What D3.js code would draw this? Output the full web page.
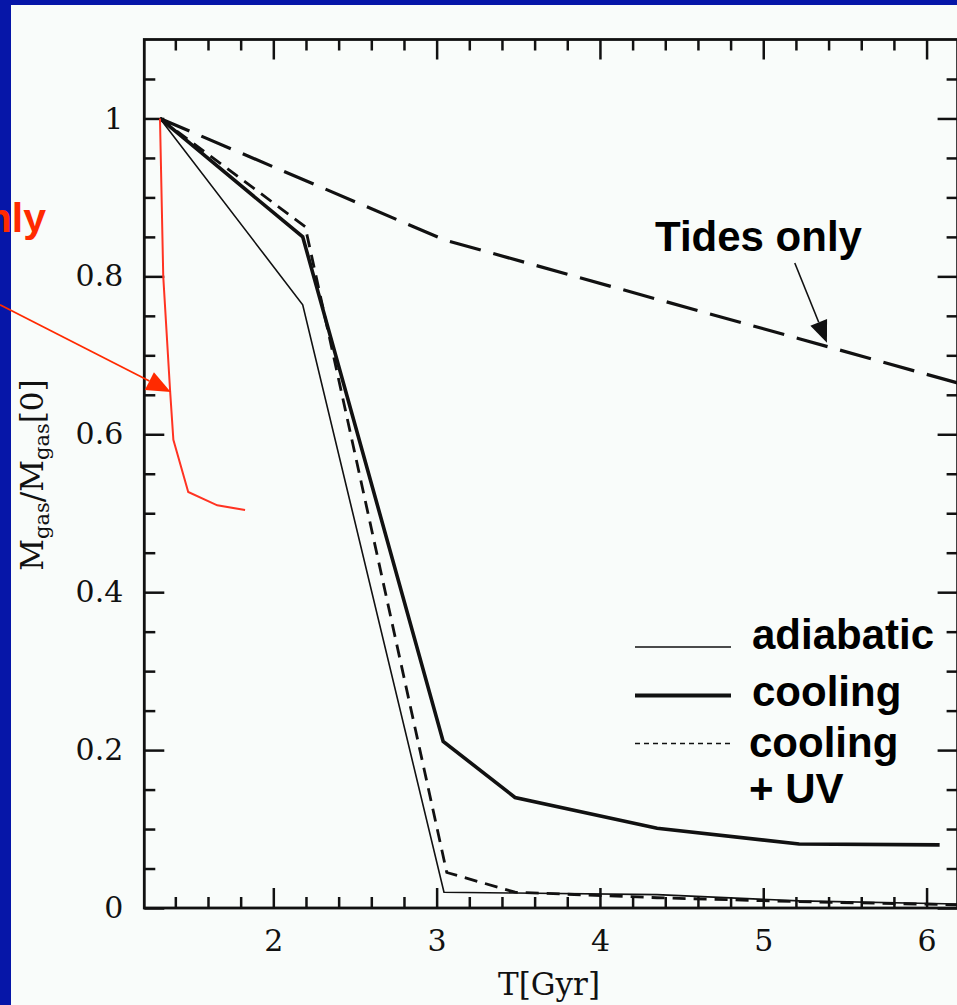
<!DOCTYPE html>
<html>
<head>
<meta charset="utf-8">
<script src="https://cdn.jsdelivr.net/npm/d3@7/dist/d3.min.js"></script>
<style>
  html, body { margin: 0; padding: 0; background: #0616a8; }
  svg { display: block; }
</style>
</head>
<body>
<svg id="chart" width="957" height="1005"></svg>
<script>
// ---------- data ----------
const tidesT = [1.306, 3.05, 4.35, 5.22, 6.19];
const tidesV = [1.0, 0.846, 0.771, 0.721, 0.665];

const coolingT = [1.306, 2.18, 3.04, 3.48, 4.35, 5.22, 6.08];
const coolingV = [1.0, 0.850, 0.211, 0.140, 0.101, 0.081, 0.080];

const adiabaticT = [1.306, 2.18, 3.045, 3.48, 4.35, 5.22, 6.19];
const adiabaticV = [1.0, 0.764, 0.020, 0.019, 0.017, 0.009, 0.005];

const coolUvT = [1.306, 2.195, 3.062, 3.48, 4.35, 5.22, 6.19];
const coolUvV = [1.0, 0.863, 0.045, 0.020, 0.013, 0.008, 0.004];

const ramT = [1.306, 1.326, 1.368, 1.388, 1.479, 1.657, 1.827];
const ramV = [1.0, 0.80, 0.655, 0.593, 0.527, 0.510, 0.504];

const xMajorTicks = [2, 3, 4, 5, 6];
const yMajorTicks = [0, 0.2, 0.4, 0.6, 0.8, 1];
const yTickLabels = ["0", "0.2", "0.4", "0.6", "0.8", "1"];

const legendLabels = ["adiabatic", "cooling", "cooling", "+ UV"];
const tidesLabel = "Tides only";
const ramLabel = "Ram pressure only";

// ---------- layout ----------
const svg = d3.select("#chart");
const W = 957, H = 1005;

svg.append("rect").attr("x", 0).attr("y", 0).attr("width", W).attr("height", H).attr("fill", "#0616a8");
svg.append("rect").attr("x", 11).attr("y", 5).attr("width", W - 11).attr("height", H - 5).attr("fill", "#f9fcfa");

const x = d3.scaleLinear().domain([1.21, 6.19]).range([144.3, 957.6]);
const y = d3.scaleLinear().domain([0, 1.1]).range([908, 39.5]);

const x0 = x.range()[0], x1 = x.range()[1], y0 = y.range()[0], y1 = y.range()[1];

svg.append("clipPath").attr("id", "plotclip")
  .append("rect").attr("x", x0).attr("y", y1).attr("width", x1 - x0).attr("height", y0 - y1);

const tickColor = "#111";
const tickFont = "'DejaVu Serif', serif";

const xMinor = d3.range(1.4, 6.2, 0.2).map(v => +v.toFixed(1)).filter(v => !xMajorTicks.includes(v));
const yMinor = d3.range(0.05, 1.1, 0.05).map(v => +v.toFixed(2)).filter(v => !yMajorTicks.some(m => Math.abs(m - v) < 1e-6));

function styleAxis(g) {
  g.select(".domain").remove();
  g.selectAll(".tick line").attr("stroke", tickColor).attr("stroke-width", 2.5);
  g.selectAll(".tick text").attr("fill", "#111").style("font-family", tickFont).style("font-size", "30px");
}

// bottom axis
svg.append("g").attr("transform", `translate(0,${y0})`)
  .call(d3.axisBottom(x).tickValues(xMajorTicks).tickSize(-20).tickPadding(22).tickFormat(d3.format("d")))
  .call(styleAxis);
svg.append("g").attr("transform", `translate(0,${y0})`)
  .call(d3.axisBottom(x).tickValues(xMinor).tickSize(-11).tickFormat(""))
  .call(styleAxis);
// top axis
svg.append("g").attr("transform", `translate(0,${y1})`)
  .call(d3.axisTop(x).tickValues(xMajorTicks).tickSize(-20).tickFormat(""))
  .call(styleAxis);
svg.append("g").attr("transform", `translate(0,${y1})`)
  .call(d3.axisTop(x).tickValues(xMinor).tickSize(-11).tickFormat(""))
  .call(styleAxis);
// left axis
svg.append("g").attr("transform", `translate(${x0},0)`)
  .call(d3.axisLeft(y).tickValues(yMajorTicks).tickSize(-20).tickPadding(21)
    .tickFormat((d, i) => yTickLabels[i]))
  .call(styleAxis);
svg.append("g").attr("transform", `translate(${x0},0)`)
  .call(d3.axisLeft(y).tickValues(yMinor).tickSize(-11).tickFormat(""))
  .call(styleAxis);
// right axis
svg.append("g").attr("transform", `translate(${x1},0)`)
  .call(d3.axisRight(y).tickValues(yMajorTicks).tickSize(-20).tickFormat(""))
  .call(styleAxis);
svg.append("g").attr("transform", `translate(${x1},0)`)
  .call(d3.axisRight(y).tickValues(yMinor).tickSize(-11).tickFormat(""))
  .call(styleAxis);

// frame
svg.append("rect").attr("x", x0).attr("y", y1).attr("width", x1 - x0).attr("height", y0 - y1)
  .attr("fill", "none").attr("stroke", tickColor).attr("stroke-width", 2.8);

// axis titles
svg.append("text").attr("x", 549).attr("y", 995).attr("text-anchor", "middle")
  .style("font-family", tickFont).style("font-size", "31px").attr("fill", "#111")
  .text("T[Gyr]");

const yt = svg.append("text").attr("transform", "translate(43,475) rotate(-90)")
  .attr("text-anchor", "middle").style("font-family", tickFont).style("font-size", "31px").attr("fill", "#111");
yt.append("tspan").text("M");
yt.append("tspan").attr("baseline-shift", "-28%").style("font-size", "21px").text("gas");
yt.append("tspan").text("/M");
yt.append("tspan").attr("baseline-shift", "-28%").style("font-size", "21px").text("gas");
yt.append("tspan").text("[0]");

// ---------- lines ----------
const line = d3.line().x(d => x(d[0])).y(d => y(d[1]));
const plot = svg.append("g").attr("clip-path", "url(#plotclip)");

function drawSeries(T, V, opts) {
  plot.append("path").datum(T.map((t, i) => [t, V[i]]))
    .attr("d", line).attr("fill", "none")
    .attr("stroke", opts.color).attr("stroke-width", opts.width)
    .attr("stroke-dasharray", opts.dash || null)
    .attr("stroke-linejoin", "miter");
}
drawSeries(tidesT, tidesV, { color: "#111", width: 3.2, dash: "32,13" });
drawSeries(adiabaticT, adiabaticV, { color: "#111", width: 1.6 });
drawSeries(coolUvT, coolUvV, { color: "#111", width: 2.8, dash: "13,8" });
drawSeries(coolingT, coolingV, { color: "#111", width: 3.6 });
drawSeries(ramT, ramV, { color: "#ff3322", width: 2 });

// ---------- legend ----------
const legFont = "'Liberation Sans', Arial, sans-serif";
const legendRows = [
  { label: legendLabels[0], lx: 752, ly: 649, line: { y: 647, w: 1.5, dash: null } },
  { label: legendLabels[1], lx: 752, ly: 706, line: { y: 695.5, w: 4.2, dash: null } },
  { label: legendLabels[2], lx: 749, ly: 757, line: { y: 743.5, w: 1.5, dash: "5,4" } },
  { label: legendLabels[3], lx: 749, ly: 803, line: null }
];
legendRows.forEach(r => {
  if (r.line) {
    svg.append("line").attr("x1", 635).attr("x2", 731).attr("y1", r.line.y).attr("y2", r.line.y)
      .attr("stroke", "#111").attr("stroke-width", r.line.w).attr("stroke-dasharray", r.line.dash);
  }
  svg.append("text").attr("x", r.lx).attr("y", r.ly)
    .style("font-family", legFont).style("font-weight", "bold").style("font-size", "42px")
    .attr("fill", "#000").text(r.label);
});

// ---------- annotations ----------
function arrow(sx, sy, tx, ty, color, w, headLen, headHalf) {
  const ang = Math.atan2(ty - sy, tx - sx);
  const bx = tx - headLen * Math.cos(ang), by = ty - headLen * Math.sin(ang);
  svg.append("line").attr("x1", sx).attr("y1", sy).attr("x2", bx).attr("y2", by)
    .attr("stroke", color).attr("stroke-width", w);
  const px = -Math.sin(ang) * headHalf, py = Math.cos(ang) * headHalf;
  svg.append("polygon")
    .attr("points", `${tx},${ty} ${bx + px},${by + py} ${bx - px},${by - py}`)
    .attr("fill", color);
}

svg.append("text").attr("x", 655).attr("y", 251)
  .style("font-family", legFont).style("font-weight", "bold").style("font-size", "42px")
  .attr("fill", "#000").text(tidesLabel);
arrow(x(5.193), y(0.817), x(5.39), y(0.716), "#111", 1.6, 22, 9);

svg.append("text").attr("x", 46).attr("y", 232).attr("text-anchor", "end")
  .style("font-family", legFont).style("font-weight", "bold").style("font-size", "41px")
  .attr("fill", "#ff2a00").text(ramLabel);
arrow(x(0.326), y(0.764), x(1.372), y(0.6536), "#ff2a00", 1.8, 24, 10);
</script>
</body>
</html>
